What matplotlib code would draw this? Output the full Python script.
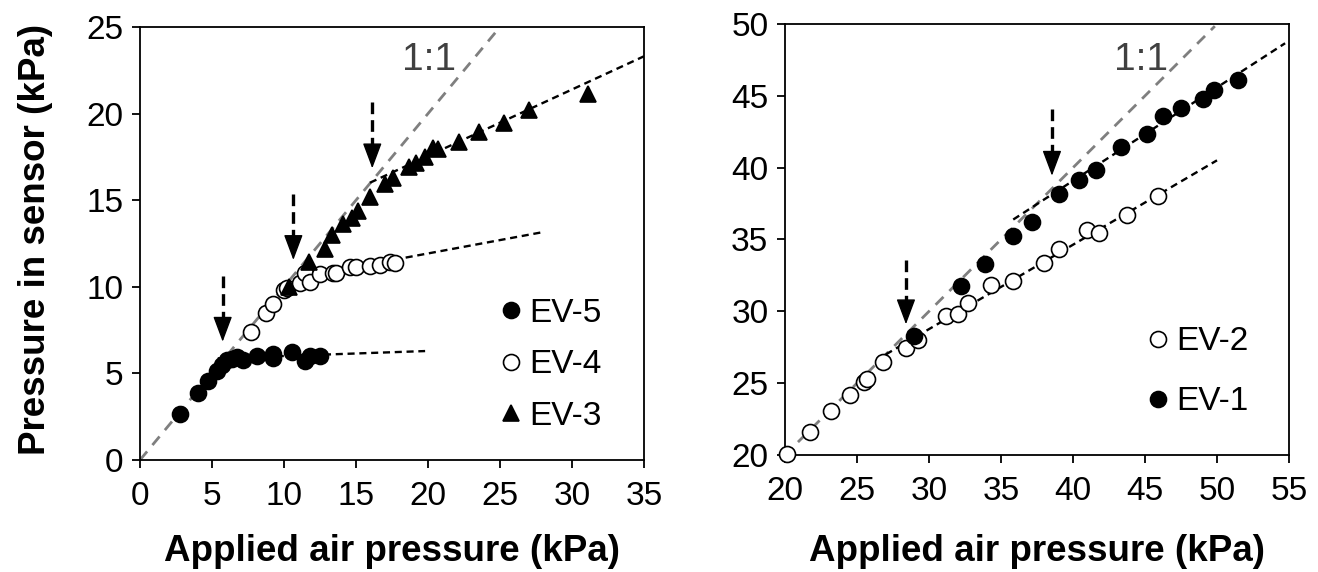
import matplotlib
matplotlib.use("Agg")
import matplotlib.pyplot as plt

plt.rcParams['font.family'] = ['Liberation Sans', 'DejaVu Sans']

# ---------------- Left panel data ----------------
ev5_x = [2.78, 4.0, 4.75, 5.37, 5.67, 6.02, 6.37, 6.76, 7.18, 8.1, 9.21, 9.26, 10.53, 11.46, 11.8, 12.5]
ev5_y = [2.66, 3.85, 4.56, 5.16, 5.48, 5.77, 5.81, 5.97, 5.77, 6.0, 6.1, 5.87, 6.21, 5.72, 6.0, 6.0]

ev4_x = [7.69, 8.73, 9.26, 10.0, 10.2, 11.11, 11.46, 11.81, 12.5, 13.43, 13.61, 14.58, 15.0, 15.97, 16.67, 17.36, 17.71]
ev4_y = [7.41, 8.51, 9.01, 9.8, 9.95, 10.24, 10.78, 10.3, 10.74, 10.78, 10.82, 11.16, 11.12, 11.2, 11.26, 11.45, 11.35]

ev3_x = [10.37, 11.74, 12.85, 13.31, 14.12, 14.7, 15.16, 15.97, 17.0, 17.59, 18.7, 19.2, 19.79, 20.37, 20.72, 22.18, 23.56, 25.28, 27.04, 31.13]
ev3_y = [9.97, 11.45, 12.16, 12.99, 13.63, 13.95, 14.4, 15.2, 15.94, 16.26, 16.9, 17.17, 17.47, 17.99, 17.94, 18.38, 18.96, 19.48, 20.21, 21.13]

# trend lines (end points)
ev5_fit_x = [5.4, 19.8]
ev5_fit_y = [5.87, 6.29]
ev4_fit_x = [12.0, 27.8]
ev4_fit_y = [10.69, 13.13]
ev3_fit_x = [15.97, 35.0]
ev3_fit_y = [16.01, 23.31]
left_11 = [0, 25]

# arrows: x, top, tip
left_arrow_x = [5.74, 10.65, 16.13]
left_arrow_top = [10.62, 15.36, 20.69]
left_arrow_tip = [6.83, 11.55, 16.84]

# ---------------- Right panel data ----------------
ev2_x = [20.15, 21.72, 23.17, 24.49, 25.49, 25.68, 26.81, 28.4, 29.24, 31.15, 32.02, 32.73, 34.32, 35.8, 37.96, 39.02, 41.0, 41.84, 43.72, 45.88]
ev2_y = [20.1, 21.62, 23.03, 24.19, 25.05, 25.28, 26.5, 27.48, 28.0, 29.68, 29.84, 30.56, 31.81, 32.11, 33.38, 34.35, 35.63, 35.42, 36.74, 38.06]

ev1_x = [28.98, 32.2, 33.87, 35.85, 37.17, 39.02, 40.42, 41.58, 43.32, 45.15, 46.28, 47.47, 49.0, 49.77, 51.49]
ev1_y = [28.29, 31.76, 33.26, 35.23, 36.23, 38.19, 39.17, 39.86, 41.44, 42.34, 43.61, 44.12, 44.77, 45.42, 46.11]

ev2_fit_x = [27.0, 50.0]
ev2_fit_y = [27.0, 40.51]
ev1_fit_x = [35.85, 54.73]
ev1_fit_y = [36.39, 48.66]
right_11 = [20.9, 49.85]

right_arrow_x = [28.4, 38.54]
right_arrow_top = [33.6, 44.07]
right_arrow_tip = [29.1, 39.44]

TICK_FS = 24
LABEL_FS = 26.5
LEG_FS = 24
RATIO_FS = 28
MS = 11.5

fig = plt.figure(figsize=(13.18, 5.72), dpi=100)
ax1 = fig.add_axes([140/1318, (572-460)/572, 504/1318, 433/572])
ax2 = fig.add_axes([785/1318, (572-455)/572, 504/1318, 431/572])


def style(ax):
    for s in ax.spines.values():
        s.set_linewidth(1.3)
        s.set_color('black')
    ax.tick_params(axis='both', direction='out', length=6, width=1.3,
                   labelsize=TICK_FS, top=False, right=False)
    ax.tick_params(axis='x', pad=9)
    ax.tick_params(axis='y', pad=6)


def arrow(ax, x, top, tip, head_frac):
    base = tip + (top - tip) * head_frac
    ax.plot([x, x], [top, base], color='black', lw=2.4, ls=(0, (3.5, 1.8)),
            zorder=4, solid_capstyle='butt', dash_capstyle='butt')
    ax.annotate('', xy=(x, tip), xytext=(x, base),
                arrowprops=dict(arrowstyle='-|>,head_length=1.6,head_width=0.6',
                                color='black', lw=1.0, shrinkA=0, shrinkB=0,
                                mutation_scale=10), zorder=5)


# ---------------- Left panel ----------------
ax1.plot(left_11, left_11, color='#7f7f7f', lw=2.0, ls=(0, (4, 3)), zorder=1)
ax1.plot(ev5_fit_x, ev5_fit_y, color='black', lw=1.7, ls=(0, (3, 2)), zorder=2)
ax1.plot(ev4_fit_x, ev4_fit_y, color='black', lw=1.7, ls=(0, (3, 2)), zorder=2)
ax1.plot(ev3_fit_x, ev3_fit_y, color='black', lw=1.7, ls=(0, (3, 2)), zorder=2)

h5, = ax1.plot(ev5_x, ev5_y, 'o', ms=MS, mfc='black', mec='black', mew=1.2, zorder=3, label='EV-5')
h4, = ax1.plot(ev4_x, ev4_y, 'o', ms=MS, mfc='white', mec='black', mew=1.2, zorder=3, label='EV-4')
h3, = ax1.plot(ev3_x, ev3_y, '^', ms=MS, mfc='black', mec='black', mew=1.2, zorder=3.5, label='EV-3')

for x, t, p in zip(left_arrow_x, left_arrow_top, left_arrow_tip):
    arrow(ax1, x, t, p, 0.3)

ax1.text(20.1, 23.1, '1:1', fontsize=RATIO_FS, color='#404040', ha='center', va='center')

ax1.set_xlim(0, 35)
ax1.set_ylim(0, 25)
ax1.set_xticks(range(0, 36, 5))
ax1.set_yticks(range(0, 26, 5))
style(ax1)
ax1.set_xlabel('Applied air pressure (kPa)', fontsize=LABEL_FS, fontweight='bold')
ax1.set_ylabel('Pressure in sensor (kPa)', fontsize=LABEL_FS, fontweight='bold')
ax1.xaxis.set_label_coords(0.5, -0.171)
ax1.yaxis.set_label_coords(-0.173, 0.51)

leg1 = ax1.legend(handles=[h5, h4, h3], loc='center left', bbox_to_anchor=(0.709, 0.22),
                  frameon=False, fontsize=LEG_FS, handlelength=0.8, handletextpad=0.15,
                  labelspacing=0.62, borderpad=0, borderaxespad=0, markerscale=1.0)

# ---------------- Right panel ----------------
ax2.plot(right_11, right_11, color='#7f7f7f', lw=2.0, ls=(0, (4, 3)), zorder=1)
ax2.plot(ev2_fit_x, ev2_fit_y, color='black', lw=1.7, ls=(0, (3, 2)), zorder=2)
ax2.plot(ev1_fit_x, ev1_fit_y, color='black', lw=1.7, ls=(0, (3, 2)), zorder=2)

h2, = ax2.plot(ev2_x, ev2_y, 'o', ms=MS, mfc='white', mec='black', mew=1.2, zorder=3, label='EV-2')
h1, = ax2.plot(ev1_x, ev1_y, 'o', ms=MS, mfc='black', mec='black', mew=1.2, zorder=3.5, label='EV-1')

for x, t, p in zip(right_arrow_x, right_arrow_top, right_arrow_tip):
    arrow(ax2, x, t, p, 0.3)

ax2.text(44.7, 47.5, '1:1', fontsize=RATIO_FS, color='#404040', ha='center', va='center')

ax2.set_xlim(20, 55)
ax2.set_ylim(20, 50)
ax2.set_xticks(range(20, 56, 5))
ax2.set_yticks(range(20, 51, 5))
style(ax2)
ax2.set_xlabel('Applied air pressure (kPa)', fontsize=LABEL_FS, fontweight='bold')
ax2.xaxis.set_label_coords(0.5, -0.184)

leg2 = ax2.legend(handles=[h2, h1], loc='center left', bbox_to_anchor=(0.713, 0.193),
                  frameon=False, fontsize=LEG_FS, handlelength=0.8, handletextpad=0.15,
                  labelspacing=0.875, borderpad=0, borderaxespad=0, markerscale=1.0)

for a in (ax1, ax2):
    for ln in a.lines:
        if ln.get_marker() not in (None, 'None', ''):
            ln.set_clip_on(False)

fig.savefig('out.png', dpi=100)
